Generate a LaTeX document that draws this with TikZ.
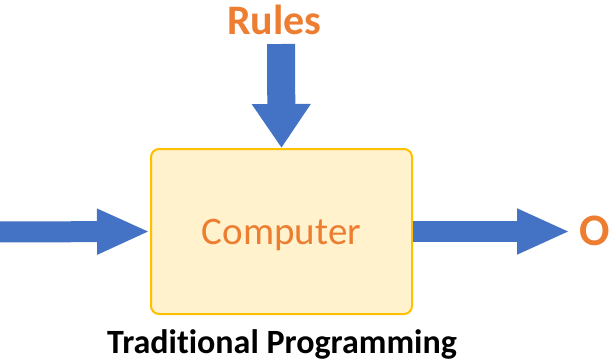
\documentclass[tikz,border=0pt]{standalone}
\usepackage{fontspec}
\setmainfont{Carlito}[Ligatures=NoCommon]
\usepackage{xcolor}
\usepackage{tikz}
\usetikzlibrary{arrows.meta}
\definecolor{textorange}{HTML}{ED7D31}
\definecolor{arrowblue}{HTML}{4472C4}
\definecolor{boxfill}{HTML}{FFF2CC}
\definecolor{boxline}{HTML}{FFC000}

\begin{document}
\begin{tikzpicture}[x=1pt,y=-1pt,
  box/.style={draw=boxline,fill=boxfill,line width=2pt,rounded corners=8pt,
    minimum width=261pt,minimum height=165pt,text height=25pt,text depth=0pt,
    text=textorange,font=\fontsize{39}{46}\selectfont},
  sidearr/.style={draw=arrowblue,line width=21pt,
    -{Triangle[length=53pt 0 0,width=42pt 0 0]}},
  downarr/.style={draw=arrowblue,line width=28pt,
    -{Triangle[length=44pt 0 0,width=56pt 0 0]}}]

  \useasboundingbox (0,0) rectangle (610,359);
  \clip (0,0) rectangle (610,359);

  %% Computer block
  \node[box] (computer) at (281.5,231.5) {Computer};

  % labels
  \node[font=\bfseries\fontsize{42}{50}\selectfont,text=textorange,
    anchor=base,inner sep=0pt] (rules) at (274.5,34.5) {Rules};
  \node[font=\bfseries\fontsize{45}{52}\selectfont,text=textorange,
    anchor=base west,inner sep=0pt] (output) at (579,245) {O};
  \node[font=\bfseries\fontsize{34}{40}\selectfont,
    anchor=base,inner sep=0pt] (caption) at (282,353) {Traditional Programming};

  % Arrows
  \coordinate (rulesfoot) at (281,44);
  \coordinate (datain) at (-10,232);
  \draw[downarr] (rulesfoot) -- (computer.north);
  \draw[sidearr] (datain) -- (computer.west);
  \draw[sidearr,shorten >=9pt] (computer.east) -- (computer.east -| output.west);

\end{tikzpicture}
\end{document}
